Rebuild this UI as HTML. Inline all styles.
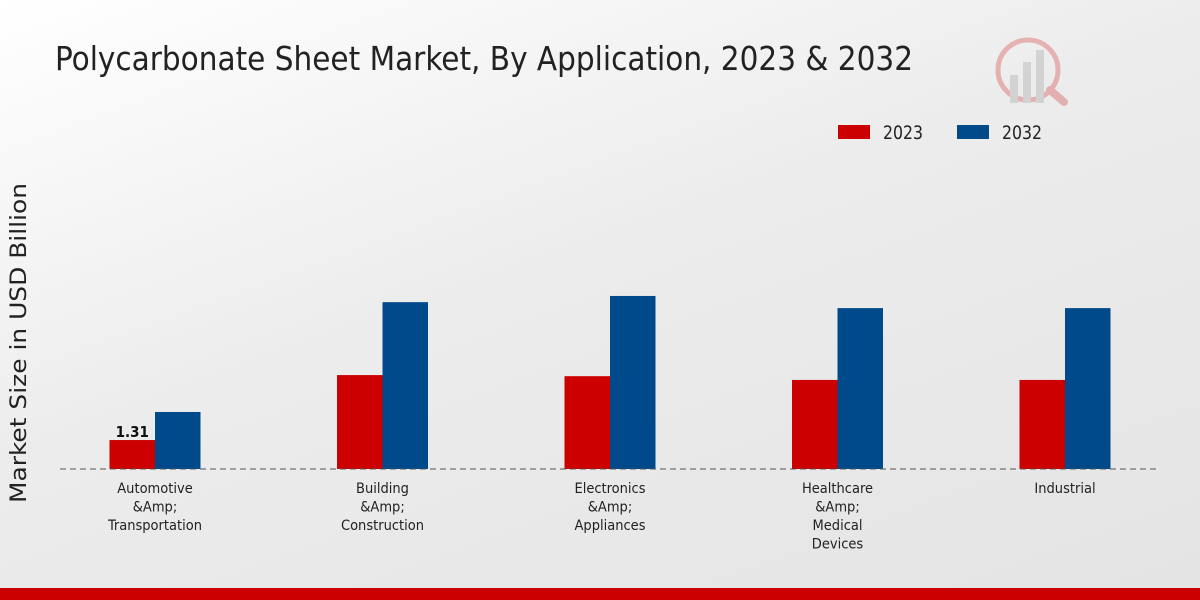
<!DOCTYPE html>
<html><head><meta charset="utf-8"><style>
body{margin:0;width:1200px;height:600px;overflow:hidden;}
svg text{font-family:"DejaVu Sans Condensed","DejaVu Sans",sans-serif;font-stretch:condensed;}
#bg{position:absolute;left:0;top:0;width:1200px;height:600px;background:linear-gradient(160deg,#ffffff 0%,#ececec 45%,#e4e4e4 100%);}
</style></head><body>
<div id="bg"></div>
<svg id="chart" width="1200" height="600" style="position:absolute;left:0;top:0">
<text x="55" y="70" font-size="33" fill="#222" textLength="858" lengthAdjust="spacingAndGlyphs">Polycarbonate Sheet Market, By Application, 2023 &amp; 2032</text>
<g opacity="0.25">
<circle cx="1028" cy="70" r="30" fill="none" stroke="#c00" stroke-width="5"/>
<rect x="1010" y="75" width="8" height="28" fill="#888"/><rect x="1023" y="62" width="8" height="41" fill="#888"/><rect x="1036" y="50" width="8" height="53" fill="#888"/>
<line x1="1050" y1="90" x2="1064" y2="102" stroke="#c00" stroke-width="8" stroke-linecap="round"/>
</g>
<g>
<rect x="838" y="125" width="32" height="14" fill="#cc0000"/>
<text x="883" y="139" font-size="19" fill="#222" textLength="40" lengthAdjust="spacingAndGlyphs">2023</text>
<rect x="957" y="125" width="32" height="14" fill="#004a8c"/>
<text x="1002" y="139" font-size="19" fill="#222" textLength="40" lengthAdjust="spacingAndGlyphs">2032</text>
</g>
<text transform="translate(26,343) rotate(-90)" text-anchor="middle" font-size="22" fill="#222" textLength="320" lengthAdjust="spacingAndGlyphs">Market Size in USD Billion</text>
<g id="bars"></g>
<line x1="60" y1="469" x2="1160" y2="469" stroke="#555" stroke-dasharray="6,4" stroke-width="1"/>
<g id="labels"></g>
<rect x="0" y="588" width="1200" height="12" fill="#cc0000"/>
</svg>
<script>
const categories=[["Automotive","&Amp;","Transportation"],["Building","&Amp;","Construction"],["Electronics","&Amp;","Appliances"],["Healthcare","&Amp;","Medical","Devices"],["Industrial"]];
const values2023=[1.31,4.25,4.2,4.03,4.03];
const values2032=[2.58,7.55,7.83,7.28,7.28];
const shownLabels=["1.31",null,null,null,null];
const ns="http://www.w3.org/2000/svg";
const base=469,scale=22.1,x0=155,step=227.5,bw=45.5;
function y(v){return base-v*scale;}
function cx(i){return x0+i*step;}
const bars=document.getElementById('bars'),labels=document.getElementById('labels');
function rect(x,v,fill,name){const r=document.createElementNS(ns,'rect');r.setAttribute('x',x);r.setAttribute('y',y(v));r.setAttribute('width',bw);r.setAttribute('height',base-y(v));r.setAttribute('fill',fill);


bars.appendChild(r);}
categories.forEach((c,i)=>{
rect(cx(i)-bw,values2023[i],'#cc0000','bar-2023-'+i);
rect(cx(i),values2032[i],'#004a8c','bar-2032-'+i);
if(shownLabels[i]){const t=document.createElementNS(ns,'text');t.setAttribute('x',cx(i)-bw/2);t.setAttribute('y',y(values2023[i])-3);t.setAttribute('text-anchor','middle');t.setAttribute('font-size','15');t.setAttribute('font-weight','bold');t.setAttribute('fill','#111');t.textContent=shownLabels[i];


bars.appendChild(t);}
const t=document.createElementNS(ns,'text');t.setAttribute('text-anchor','middle');t.setAttribute('font-size','14.5');t.setAttribute('fill','#222');


c.forEach((line,j)=>{const s=document.createElementNS(ns,'tspan');s.setAttribute('x',cx(i));s.setAttribute('y',493+j*18.5);s.textContent=line;t.appendChild(s);});
labels.appendChild(t);
});
</script>
</body></html>
